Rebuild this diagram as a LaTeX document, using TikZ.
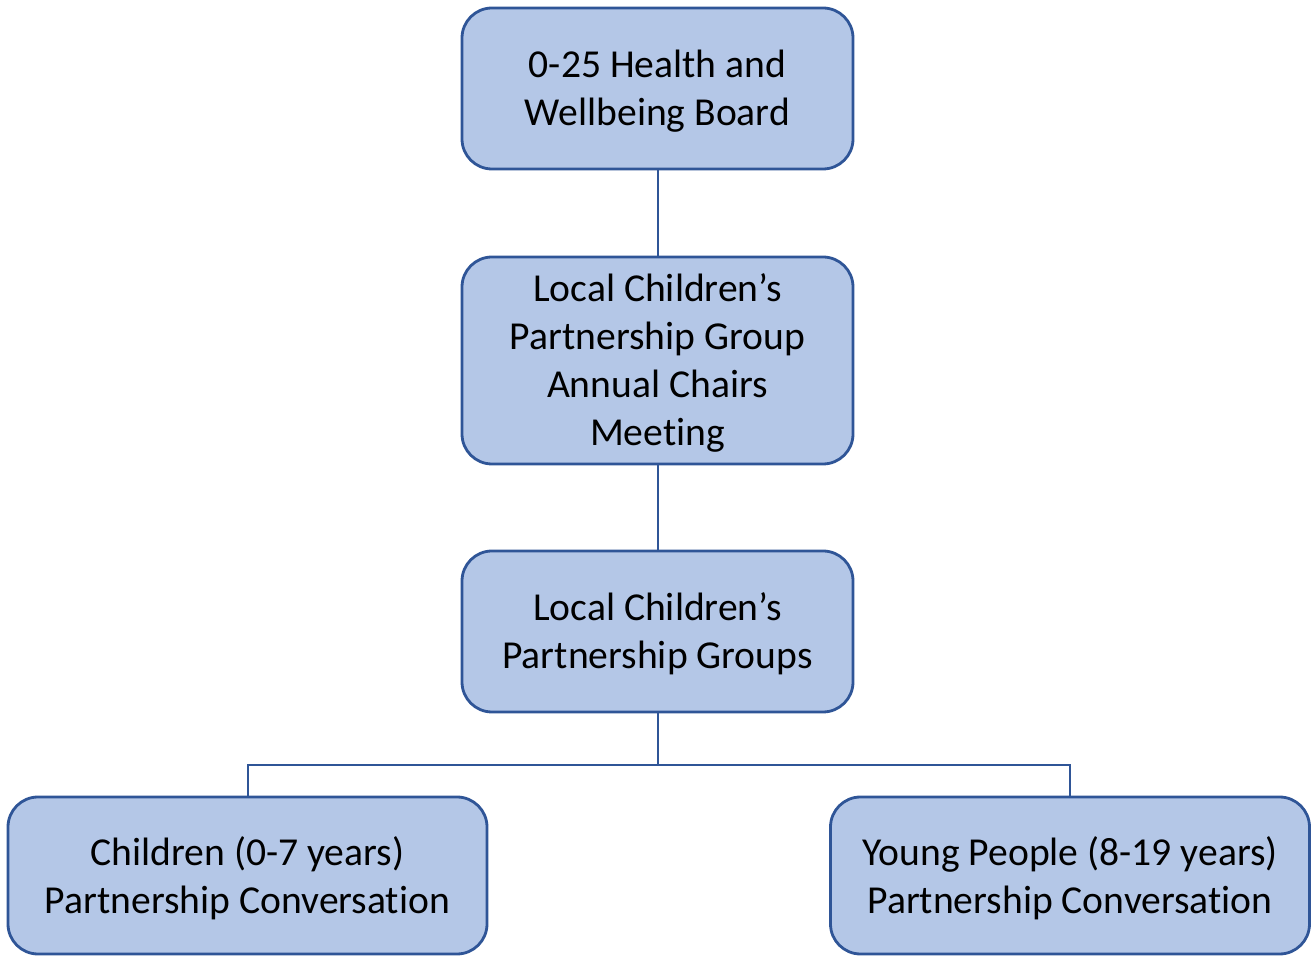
\documentclass[tikz,border=0pt]{standalone}
\usepackage{fontspec}
\setmainfont[Ligatures=NoCommon]{Carlito}
\usepackage{tikz}
\usetikzlibrary{positioning}
\definecolor{boxfill}{HTML}{B4C7E7}
\definecolor{boxline}{HTML}{2F5597}
\tikzstyle{Board}=[rectangle, rounded corners=15pt, minimum width=195.5pt, minimum height=80.5pt, align=center, draw=boxline, fill=boxfill, line width=1.4pt, text depth=0.5pt, font=\fontsize{19.8}{24}\selectfont]
\tikzstyle{Link}=[draw=boxline, line width=1pt]

\begin{document}
\begin{tikzpicture}[x=0.5pt, y=-0.5pt]
    \useasboundingbox (0,0) rectangle (1313,956);
    \path
    (657.5,88.5) node[Board] (hwb) {0-25 Health and\\Wellbeing Board}
    (657.5,360.5) node[Board, minimum height=103.5pt] (chairs) {Local Children's\\Partnership Group\\Annual Chairs\\Meeting}
    (657.5,631.5) node[Board] (lcpg) {Local Children's\\Partnership Groups};

    \path
    (247.5,875.5) node[Board, minimum width=239.5pt, minimum height=78.5pt] (kids) {Children (0-7 years)\\Partnership Conversation}
    (1070,875.5) node[Board, minimum width=239.5pt, minimum height=78.5pt] (young) {Young People (8-19 years)\\Partnership Conversation};

    \coordinate (bus) at (657.5,765);

    \draw[Link] (hwb) -- (chairs);
    \draw[Link] (chairs) -- (lcpg);
    \draw[Link] (lcpg) -- (bus) -| (kids);
    \draw[Link] (bus) -| (young);
\end{tikzpicture}
\end{document}
